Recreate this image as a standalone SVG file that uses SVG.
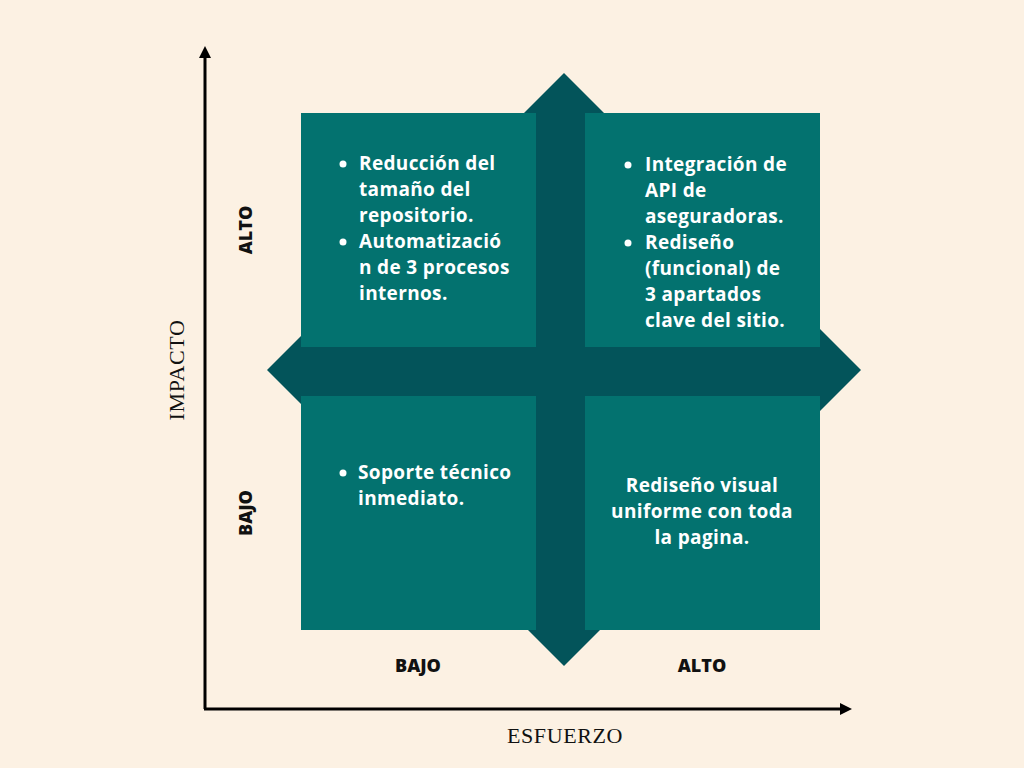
<svg xmlns="http://www.w3.org/2000/svg" width="1024" height="768" viewBox="0 0 1024 768">
<defs>
<style>
.q{fill:#03726f}
.arr{fill:#03545a}
.t{font-family:"Open Sans",Lato,sans-serif;font-weight:700;font-size:19px;letter-spacing:0.35px;fill:#ffffff}
.ax{font-family:"Liberation Serif",serif;font-size:22px;letter-spacing:0.6px;fill:#111}
.lb{font-family:"Open Sans",Lato,sans-serif;font-weight:800;font-size:18px;fill:#111}
</style>
<marker id="ah" viewBox="0 0 10 10" refX="5" refY="5" markerWidth="4" markerHeight="4" orient="auto">
<path d="M0,0 L10,5 L0,10 z" fill="#000"/>
</marker>
</defs>
<rect width="1024" height="768" fill="#fcf1e3"/>
<g id="axes">
<line x1="205" y1="709" x2="205" y2="52" stroke="#000" stroke-width="3" marker-end="url(#ah)"/>
<line x1="204" y1="709" x2="846" y2="709" stroke="#000" stroke-width="3" marker-end="url(#ah)"/>
<text class="ax" x="184" y="370" text-anchor="middle" transform="rotate(-90 184 370)">IMPACTO</text>
<text class="ax" x="565" y="743" text-anchor="middle">ESFUERZO</text>
</g>
<g id="cross">
<rect class="arr" x="536" y="120" width="50" height="500"/>
<rect class="arr" x="310" y="347" width="500" height="49"/>
<polygon class="arr" points="564,73 624,133 504,133"/>
<polygon class="arr" points="564,666 624,606 504,606"/>
<polygon class="arr" points="267,370 327,310 327,430"/>
<polygon class="arr" points="861,370 801,310 801,430"/>
</g>
<g id="q-tl">
<rect class="q" x="301" y="113" width="235" height="234"/>
<circle cx="343" cy="164" r="3.5" fill="#fff"/>
<circle cx="343" cy="242" r="3.5" fill="#fff"/>
<text class="t" x="359" y="170">Reducción del</text>
<text class="t" x="359" y="196">tamaño del</text>
<text class="t" x="359" y="222">repositorio.</text>
<text class="t" x="359" y="248">Automatizació</text>
<text class="t" x="359" y="274">n de 3 procesos</text>
<text class="t" x="359" y="300">internos.</text>
</g>
<g id="q-tr">
<rect class="q" x="585" y="113" width="235" height="234"/>
<circle cx="628" cy="165" r="3.5" fill="#fff"/>
<circle cx="628" cy="243" r="3.5" fill="#fff"/>
<text class="t" x="645" y="171">Integración de</text>
<text class="t" x="645" y="197">API de</text>
<text class="t" x="645" y="223">aseguradoras.</text>
<text class="t" x="645" y="249">Rediseño</text>
<text class="t" x="645" y="275">(funcional) de</text>
<text class="t" x="645" y="301">3 apartados</text>
<text class="t" x="645" y="327">clave del sitio.</text>
</g>
<g id="q-bl">
<rect class="q" x="301" y="396" width="235" height="234"/>
<circle cx="343" cy="473" r="3.5" fill="#fff"/>
<text class="t" x="358" y="479">Soporte técnico</text>
<text class="t" x="358" y="505">inmediato.</text>
</g>
<g id="q-br">
<rect class="q" x="585" y="396" width="235" height="234"/>
<text class="t" x="702" y="492" text-anchor="middle">Rediseño visual</text>
<text class="t" x="702" y="518" text-anchor="middle">uniforme con toda</text>
<text class="t" x="702" y="544" text-anchor="middle">la pagina.</text>
</g>
<g id="labels">
<text class="lb" x="252" y="230" text-anchor="middle" transform="rotate(-90 252 230)">ALTO</text>
<text class="lb" x="252" y="513" text-anchor="middle" transform="rotate(-90 252 513)">BAJO</text>
<text class="lb" x="418" y="672" text-anchor="middle">BAJO</text>
<text class="lb" x="702" y="672" text-anchor="middle">ALTO</text>
</g>
</svg>
